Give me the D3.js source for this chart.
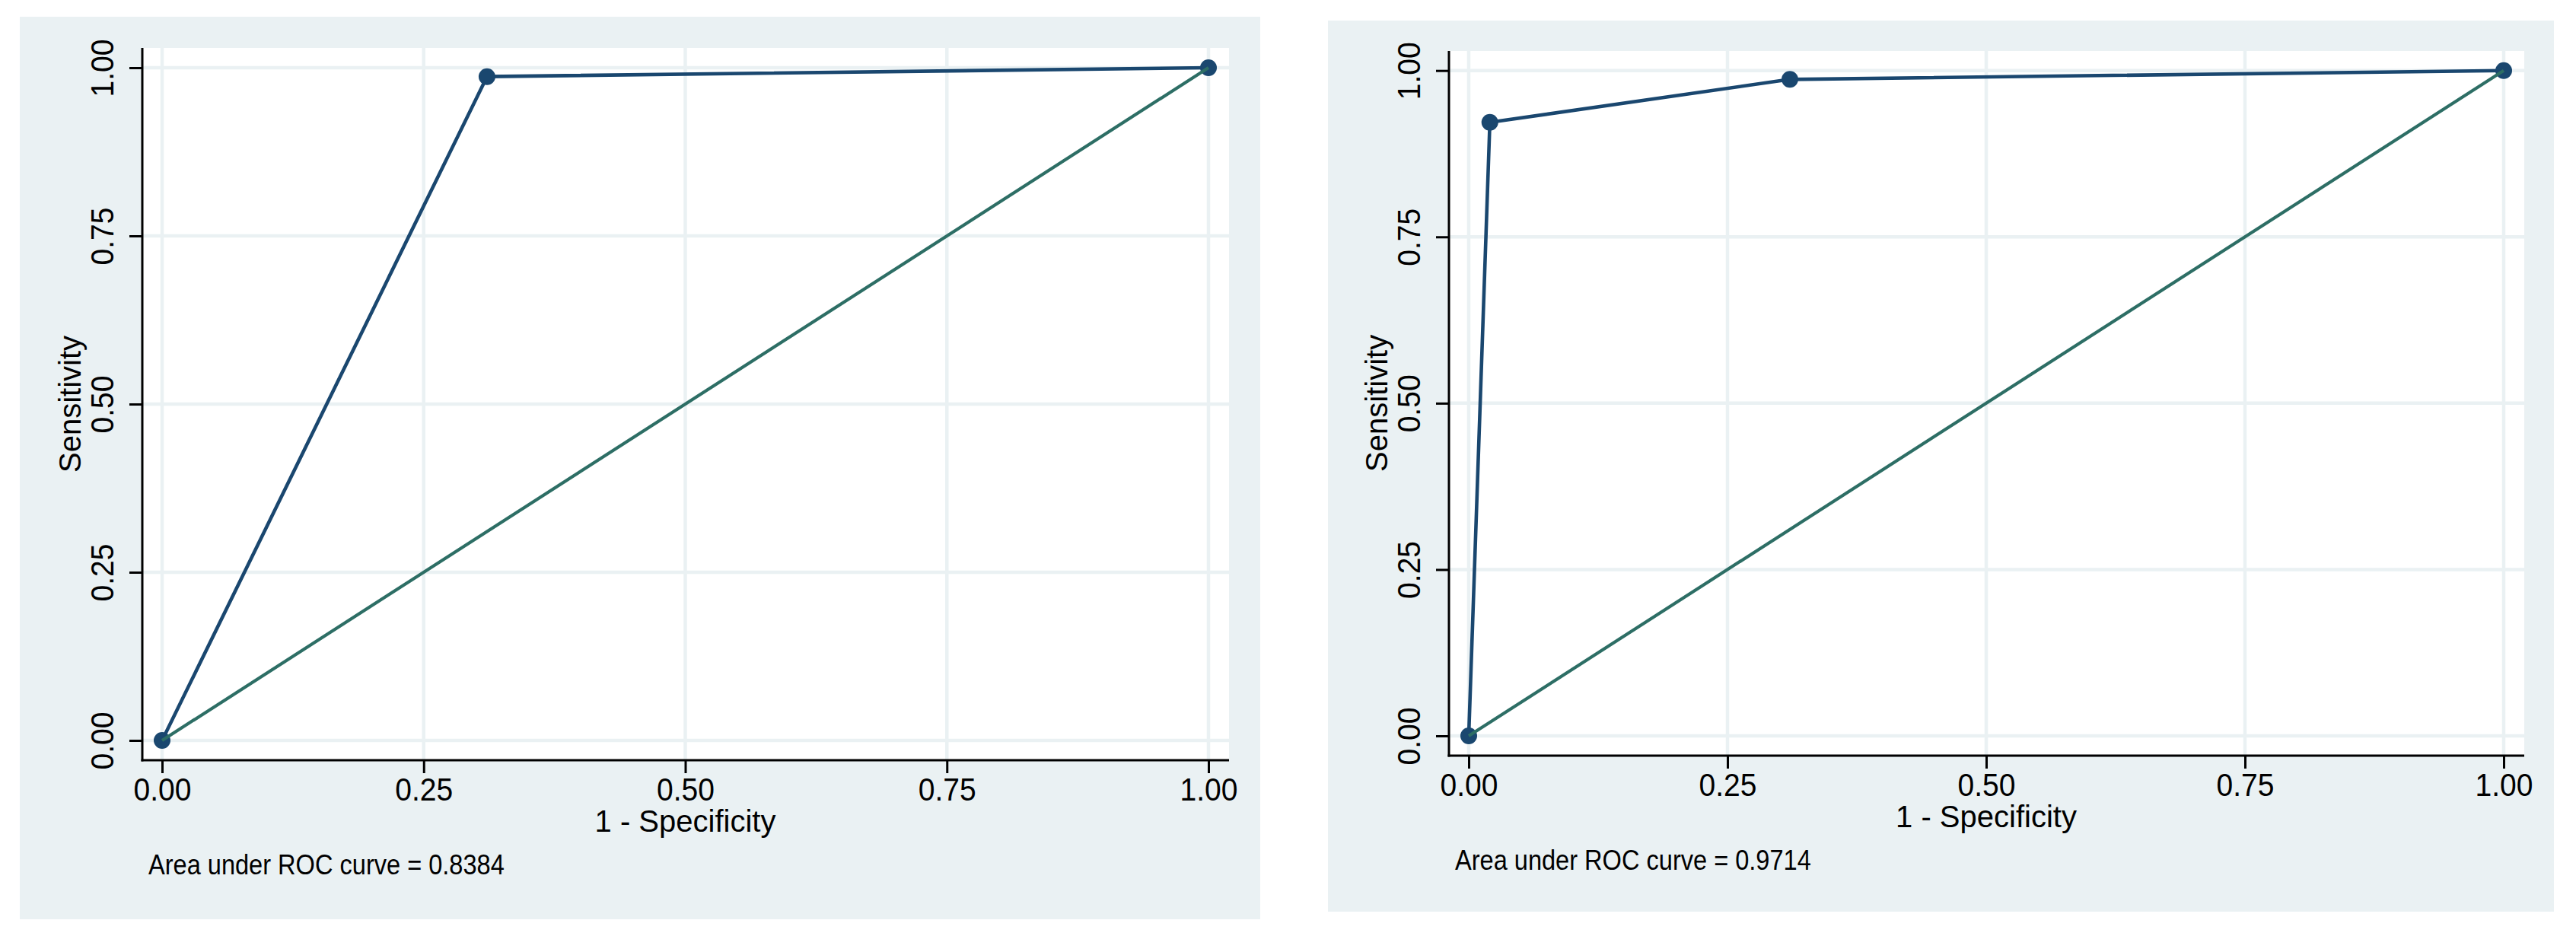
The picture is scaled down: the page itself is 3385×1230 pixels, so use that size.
<!DOCTYPE html>
<html>
<head>
<meta charset="utf-8">
<script src="https://cdn.jsdelivr.net/npm/d3@7"></script>
<style>
  html, body { margin: 0; padding: 0; background: #ffffff; }
  svg { display: block; }
  text { font-family: "Liberation Sans", Arial, Helvetica, sans-serif; fill: #000; }
</style>
</head>
<body>
<svg id="chart" width="3385" height="1230"></svg>
<script>
// ---------------- data ----------------
const tickValues = [0, 0.25, 0.5, 0.75, 1];
const tickLabels = ["0.00", "0.25", "0.50", "0.75", "1.00"];
const xTitle = "1 - Specificity";
const yTitle = "Sensitivity";

// Panel A (left) ROC points
const fprA  = [0, 0.3105, 1];
const sensA = [0, 0.9868, 1];
const aucA  = "0.8384";

// Panel B (right) ROC points
const fprB  = [0, 0.0204, 0.3103, 1];
const sensB = [0, 0.9222, 0.9867, 1];
const aucB  = "0.9714";

// reference (chance) line
const refX = [0, 1];
const refY = [0, 1];

// ---------------- layout ----------------
const layouts = [
  { bg: [26, 22, 1630, 1186], axisL: 187, axisR: 1615, axisT: 63, axisB: 999, x0: 213, x1: 1588, y0: 973, y1: 89 },
  { bg: [1745, 27, 1611, 1171], axisL: 1904, axisR: 3317, axisT: 67, axisB: 993, x0: 1930, x1: 3290, y0: 967, y1: 92.7 }
];
const panelData = [
  { fpr: fprA, sens: sensA, auc: aucA },
  { fpr: fprB, sens: sensB, auc: aucB }
];

const COL_BG = "#eaf1f3";
const COL_GRID = "#eaf1f3";
const COL_NAVY = "#1a476f";
const COL_GREEN = "#2d6e65";

const svg = d3.select("#chart");

layouts.forEach((L, i) => {
  const D = panelData[i];
  const g = svg.append("g");

  // graph region background
  g.append("rect")
    .attr("x", L.bg[0]).attr("y", L.bg[1])
    .attr("width", L.bg[2]).attr("height", L.bg[3])
    .attr("fill", COL_BG);

  // plot region
  g.append("rect")
    .attr("x", L.axisL).attr("y", L.axisT)
    .attr("width", L.axisR - L.axisL).attr("height", L.axisB - L.axisT)
    .attr("fill", "#ffffff");

  const x = d3.scaleLinear().domain([0, 1]).range([L.x0, L.x1]);
  const y = d3.scaleLinear().domain([0, 1]).range([L.y0, L.y1]);

  // grid lines
  g.append("g").selectAll("line.vg").data(tickValues).join("line")
    .attr("x1", d => x(d)).attr("x2", d => x(d))
    .attr("y1", L.axisT).attr("y2", L.axisB)
    .attr("stroke", COL_GRID).attr("stroke-width", 4.5);
  g.append("g").selectAll("line.hg").data(tickValues).join("line")
    .attr("y1", d => y(d)).attr("y2", d => y(d))
    .attr("x1", L.axisL).attr("x2", L.axisR)
    .attr("stroke", COL_GRID).attr("stroke-width", 4.5);

  // x axis
  const xAxis = d3.axisBottom(x).tickValues(tickValues)
    .tickFormat((d, k) => tickLabels[k]).tickSize(17).tickSizeOuter(0);
  const gx = g.append("g").attr("transform", `translate(0,${L.axisB})`).call(xAxis);
  gx.select(".domain").remove();
  gx.selectAll(".tick line").attr("stroke", "#000").attr("stroke-width", 3);
  gx.selectAll(".tick text")
    .attr("x", null).attr("y", null).attr("dy", null)
    .attr("transform", "translate(0,53) scale(0.93,1)")
    .attr("text-anchor", "middle")
    .style("font-family", "'Liberation Sans', Arial, sans-serif")
    .style("font-size", "42px").attr("fill", "#000");

  // y axis
  const yAxis = d3.axisLeft(y).tickValues(tickValues)
    .tickFormat((d, k) => tickLabels[k]).tickSize(17).tickSizeOuter(0);
  const gy = g.append("g").attr("transform", `translate(${L.axisL},0)`).call(yAxis);
  gy.select(".domain").remove();
  gy.selectAll(".tick line").attr("stroke", "#000").attr("stroke-width", 3);
  gy.selectAll(".tick text")
    .attr("x", null).attr("y", null).attr("dy", null)
    .attr("transform", "translate(-38,0) rotate(-90) scale(0.93,1)")
    .attr("text-anchor", "middle")
    .style("font-family", "'Liberation Sans', Arial, sans-serif")
    .style("font-size", "42px").attr("fill", "#000");

  // axis lines
  g.append("line")
    .attr("x1", L.axisL).attr("x2", L.axisL)
    .attr("y1", L.axisT).attr("y2", L.axisB + 1.5)
    .attr("stroke", "#000").attr("stroke-width", 3);
  g.append("line")
    .attr("x1", L.axisL - 1.5).attr("x2", L.axisR)
    .attr("y1", L.axisB).attr("y2", L.axisB)
    .attr("stroke", "#000").attr("stroke-width", 3);

  // axis titles
  g.append("text")
    .attr("transform", `translate(${(L.x0 + L.x1) / 2},${L.axisB + 94})`)
    .attr("text-anchor", "middle")
    .style("font-size", "40px")
    .text(xTitle);
  g.append("text")
    .attr("transform", `translate(${L.axisL - 81},${(L.y0 + L.y1) / 2}) rotate(-90)`)
    .attr("text-anchor", "middle")
    .style("font-size", "40px")
    .text(yTitle);

  // ROC curve
  const pts = D.fpr.map((f, k) => [f, D.sens[k]]);
  const line = d3.line().x(d => x(d[0])).y(d => y(d[1]));
  g.append("path").datum(pts)
    .attr("d", line)
    .attr("fill", "none")
    .attr("stroke", COL_NAVY)
    .attr("stroke-width", 4.6)
    .attr("stroke-linejoin", "round");
  g.append("g").selectAll("circle").data(pts).join("circle")
    .attr("cx", d => x(d[0])).attr("cy", d => y(d[1]))
    .attr("r", 11).attr("fill", COL_NAVY);

  // reference line
  const refPts = refX.map((v, k) => [v, refY[k]]);
  g.append("path").datum(refPts)
    .attr("d", line)
    .attr("fill", "none")
    .attr("stroke", COL_GREEN)
    .attr("stroke-width", 4.2);

  // AUC note
  g.append("text")
    .attr("transform", `translate(${L.axisL + 8},${L.axisB + 150}) scale(0.88,1)`)
    .attr("text-anchor", "start")
    .style("font-size", "37px")
    .text("Area under ROC curve = " + D.auc);
});
</script>
</body>
</html>
